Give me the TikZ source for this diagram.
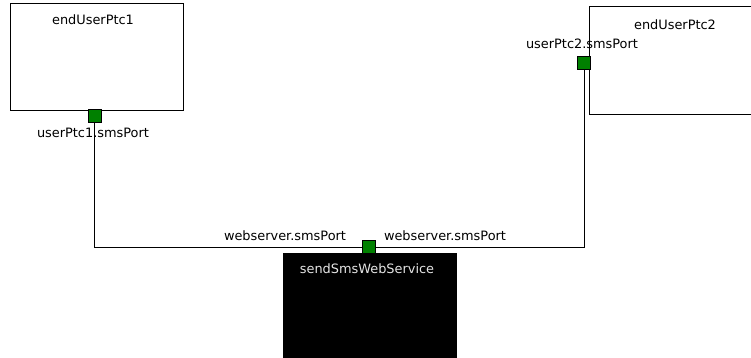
\documentclass[tikz,border=0pt]{standalone}
\usepackage{fontspec}
\setmainfont{DejaVu Sans}
\begin{document}
\begin{tikzpicture}[x=1pt,y=-1pt,
  comp/.style={draw=black, line width=1pt, minimum width=173pt, minimum height=107pt, inner sep=0pt},
  port/.style={draw=black, line width=0.8pt, fill=green!50!black, minimum size=13pt, inner sep=0pt},
  txt/.style={font=\fontsize{12.9}{14}\selectfont, inner sep=0pt},
  wire/.style={line width=1pt, draw=black}]
\useasboundingbox (0,0) rectangle (751,358);
\fill[white] (0,0) rectangle (751,358);
\clip (0,0) rectangle (751,358);
\node[comp] (box1) at (96.5,57.5) {};
\node[comp, minimum height=108pt] (box2) at (675.5,61) {};
\node[comp, fill=black] (ws) at (369.5,306.5) {};
\node[txt] (t1) at (93,20) {endUserPtc1};
\node[txt] (t2) at (675,25) {endUserPtc2};
\node[txt, text=white!90!black] (t3) at (367,269) {sendSmsWebService};
\node[port] (p1) at (94.5,116) {};
\node[port] (p2) at (584,63) {};
\node[port] (p3) at (369,247) {};
\draw[wire] (p1.south) |- (p3.west);
\draw[wire] (p3.east) -| (p2.south);
\node[txt] (l1) at (93,133) {userPtc1.smsPort};
\node[txt] (l2) at (582,44) {userPtc2.smsPort};
\node[txt] (l3) at (285,236) {webserver.smsPort};
\node[txt] (l4) at (445,236) {webserver.smsPort};
\end{tikzpicture}
\end{document}
